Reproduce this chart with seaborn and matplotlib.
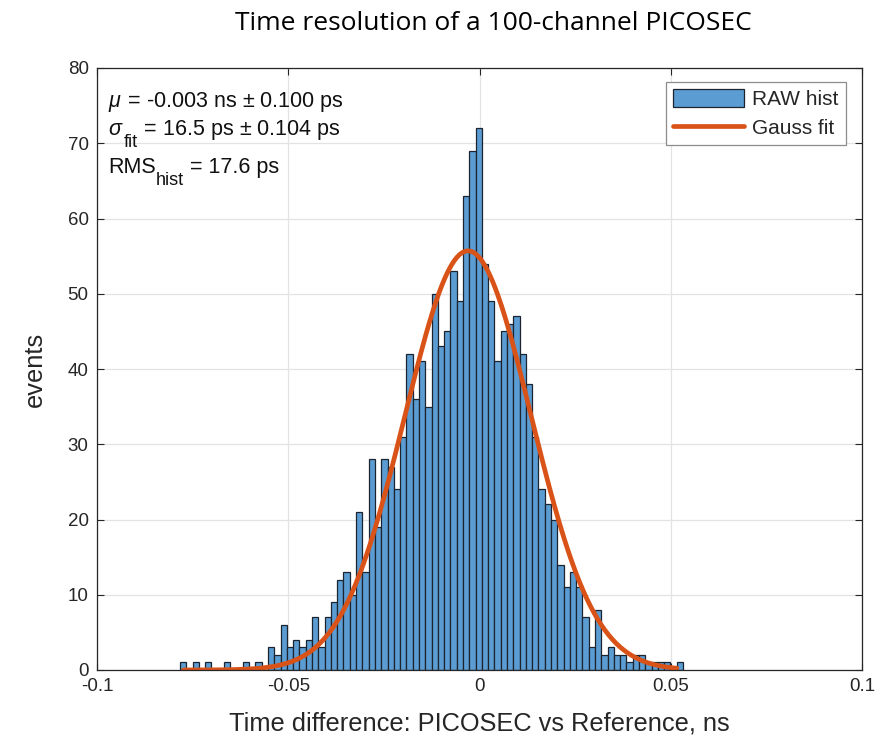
import numpy as np
import pandas as pd
import matplotlib
matplotlib.use("Agg")
import matplotlib.pyplot as plt
import seaborn as sns
from matplotlib.patches import Patch
from matplotlib.lines import Line2D

# ---- data ----
bin_left = -0.0783      # ns, left edge of the first bin
bin_width = 0.001644    # ns
counts = [1, 0, 1, 0, 1, 0, 0, 1, 0, 0,
          1, 0, 1, 0, 3, 2, 6, 3, 4, 3,
          4, 7, 3, 7, 9, 12, 13, 10, 21, 13,
          28, 19, 28, 27, 24, 31, 42, 36, 41, 35,
          50, 43, 45, 53, 49, 63, 69, 72, 54, 49,
          41, 45, 46, 47, 42, 38, 31, 24, 22, 20,
          14, 11, 13, 11, 7, 3, 8, 2, 3, 2,
          2, 1, 2, 2, 1, 1, 1, 1, 0, 1]
fit_mu = -0.003         # ns
fit_sigma = 0.0165      # ns
fit_amp = 55.7          # events
fit_range = [-0.0774, 0.0516]
x_ticks = [-0.1, -0.05, 0, 0.05, 0.1]
x_ticklabels = ["-0.1", "-0.05", "0", "0.05", "0.1"]
y_ticks = [0, 10, 20, 30, 40, 50, 60, 70, 80]
title = "Time resolution of a 100-channel PICOSEC"
xlabel = "Time difference: PICOSEC vs Reference, ns"
ylabel = "events"
# each stats line: (main symbol, subscript, rest)
stats_lines = [(r"$\mu$", "", r" = -0.003 ns $\pm$ 0.100 ps"),
               (r"$\sigma$", "fit", r" = 16.5 ps $\pm$ 0.104 ps"),
               ("RMS", "hist", " = 17.6 ps")]
legend_labels = ["RAW hist", "Gauss fit"]

# ---- derived tables ----
nb = len(counts)
edges = (bin_left + bin_width * np.arange(nb + 1)).tolist()
centers = [0.5 * (edges[i] + edges[i + 1]) for i in range(nb)]
hist_df = pd.DataFrame({"t": centers, "n": counts})
xf = np.linspace(fit_range[0], fit_range[1], 400)
fit_df = pd.DataFrame({"t": xf,
                       "g": fit_amp * np.exp(-0.5 * ((xf - fit_mu) / fit_sigma) ** 2)})

sns.set_theme(style="white")
plt.rcParams["font.family"] = ["Liberation Sans", "DejaVu Sans"]
plt.rcParams["mathtext.fontset"] = "custom"
plt.rcParams["mathtext.rm"] = "Liberation Sans"
plt.rcParams["mathtext.it"] = "Liberation Sans:italic"

bar_color = "#5b9dd3"
fit_color = "#d95319"

fig = plt.figure(figsize=(8.89, 7.41), dpi=100)
ax = fig.add_axes([97/889, 1 - 670/741, (862 - 97)/889, (670 - 68)/741])

sns.histplot(data=hist_df, x="t", weights="n", bins=edges, ax=ax,
             color=bar_color, alpha=1.0, edgecolor="#1c2430", linewidth=0.9)
sns.lineplot(data=fit_df, x="t", y="g", ax=ax, color=fit_color, linewidth=3.4)

ax.set_xlim(-0.1, 0.1)
ax.set_ylim(0, 80)
ax.set_xticks(x_ticks)
ax.set_xticklabels(x_ticklabels)
ax.set_yticks(y_ticks)
ax.grid(True, color="#e3e3e3", linewidth=0.9)
ax.set_axisbelow(True)
for s in ax.spines.values():
    s.set_color("#262626")
    s.set_linewidth(0.9)
ax.tick_params(axis="both", direction="in", length=5, width=0.8,
               labelsize=13.5, colors="#262626", top=True, right=True,
               bottom=True, left=True, pad=6)
ax.tick_params(labeltop=False, labelright=False)
ax.set_xlabel(xlabel, fontsize=18.3, color="#262626", labelpad=12)
ax.set_ylabel(ylabel, fontsize=18.3, color="#262626", labelpad=15)

fig.text(493/889, 1 - 23/741, title, ha="center", va="center",
         fontsize=19, family=["Open Sans", "DejaVu Sans"], color="black")

# stats text drawn piecewise so the subscripts match the MATLAB look
renderer = fig.canvas.get_renderer()
baselines = [0.9357, 0.8887, 0.8256]
main_fs, sub_fs, sub_drop = 15.5, 13.0, -8.5
for (main, sub, rest), yb in zip(stats_lines, baselines):
    xoff = 0.0
    for txt, fs, dy in [(main, main_fs, 0.0), (sub, sub_fs, sub_drop), (rest, main_fs, 0.0)]:
        if not txt:
            continue
        t = ax.annotate(txt, xy=(0.0145, yb), xycoords="axes fraction",
                        xytext=(xoff, dy), textcoords="offset points",
                        fontsize=fs, ha="left", va="baseline", color="#111111")
        w = t.get_window_extent(renderer).width
        xoff += w * 72.0 / fig.dpi

handles = [Patch(facecolor=bar_color, edgecolor="#1c2430", linewidth=0.9),
           Line2D([0], [0], color=fit_color, linewidth=3.4)]
leg = ax.legend(handles, legend_labels, loc="upper right",
                bbox_to_anchor=(0.979, 0.977), fontsize=15,
                frameon=True, fancybox=False, framealpha=1,
                edgecolor="#8c8c8c", handlelength=3.4, handleheight=0.95,
                borderpad=0.35, labelspacing=0.42, handletextpad=0.4,
                borderaxespad=0.0)
leg.get_frame().set_linewidth(0.9)

fig.savefig("out.png", dpi=100)
